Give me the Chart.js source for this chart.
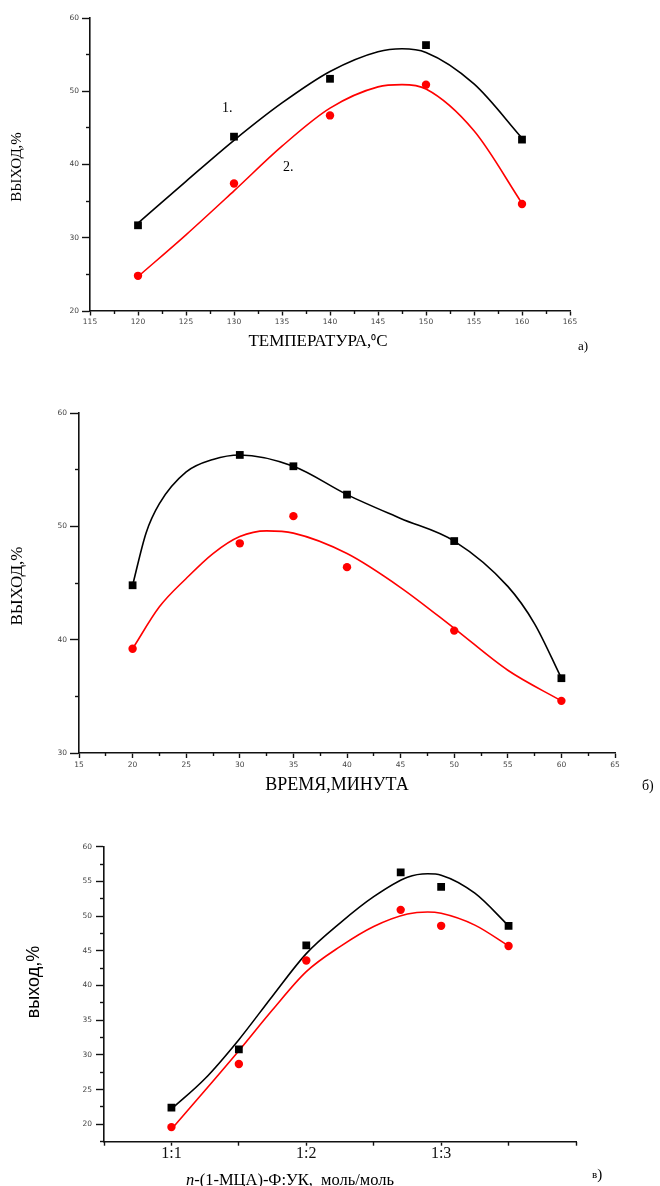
<!DOCTYPE html>
<html><head><meta charset="utf-8">
<script src="https://cdn.jsdelivr.net/npm/chart.js@4.4.0/dist/chart.umd.min.js"></script>
<style>
html,body{margin:0;padding:0;background:#fff;width:660px;height:1186px;overflow:hidden;}
canvas{position:absolute;left:0;}
</style></head><body>
<canvas id="ca" width="660" height="380" style="top:0px"></canvas>
<canvas id="cb" width="660" height="420" style="top:380px"></canvas>
<canvas id="cc" width="660" height="386" style="top:800px"></canvas>
<script>
// ---------- a) temperature ----------
const tempX = [120, 130, 140, 150, 160];
const tempYield1 = [31.7, 43.8, 51.7, 56.3, 43.4];
const tempYield2 = [24.8, 37.4, 46.7, 50.9, 34.6];
const tempCurveX = [120, 125, 130, 135, 140, 145, 147.5, 150, 155, 160];
const tempCurve1 = [32.0, 37.7, 43.3, 48.4, 52.7, 55.4, 55.8, 55.3, 51.0, 43.6];
const tempCurve2 = [24.7, 30.4, 36.4, 42.5, 47.7, 50.6, 50.9, 50.3, 44.6, 34.7];
const tempXTicks = [115, 120, 125, 130, 135, 140, 145, 150, 155, 160, 165];
const tempXMinor = [117.5, 122.5, 127.5, 132.5, 137.5, 142.5, 147.5, 152.5, 157.5, 162.5];
const tempYTicks = [20, 30, 40, 50, 60];
const tempYMinor = [25, 35, 45, 55];

// ---------- б) time ----------
const timeX = [20, 30, 35, 40, 50, 60];
const timeYield1 = [44.8, 56.3, 55.3, 52.8, 48.7, 36.6];
const timeYield2 = [39.2, 48.5, 50.9, 46.4, 40.8, 34.6];
const timeCurve1X = [20, 21.25, 22.5, 25, 27.5, 30, 35, 40, 45, 50, 55, 57.5, 60];
const timeCurve1 = [44.8, 49.4, 52.0, 54.8, 55.9, 56.3, 55.3, 52.8, 50.7, 48.7, 44.7, 41.4, 36.6];
const timeCurve2X = [20, 22.5, 25, 27.5, 30, 32.5, 35, 40, 45, 50, 55, 60];
const timeCurve2 = [39.2, 42.9, 45.4, 47.6, 49.1, 49.6, 49.4, 47.6, 44.6, 41.0, 37.3, 34.6];
const timeXTicks = [15, 20, 25, 30, 35, 40, 45, 50, 55, 60, 65];
const timeXMinor = [17.5, 22.5, 27.5, 32.5, 37.5, 42.5, 47.5, 52.5, 57.5, 62.5];
const timeYTicks = [30, 40, 50, 60];
const timeYMinor = [35, 45, 55];

// ---------- в) molar ratio ----------
const ratioX = [1, 1.5, 2, 2.7, 3, 3.5];
const ratioYield1 = [22.4, 30.8, 45.8, 56.3, 54.2, 48.6];
const ratioYield2 = [19.6, 28.7, 43.6, 50.9, 48.6, 45.7];
const ratioCurveX = [1, 1.25, 1.5, 1.75, 2, 2.25, 2.5, 2.75, 2.9, 3, 3.25, 3.5];
const ratioCurve1 = [22.2, 26.6, 32.2, 38.5, 44.6, 49.0, 52.8, 55.6, 56.1, 55.9, 53.3, 48.6];
const ratioCurve2 = [19.3, 24.9, 30.6, 36.5, 42.0, 45.6, 48.5, 50.3, 50.6, 50.4, 48.7, 45.7];
const ratioXTicks = [1, 2, 3];
const ratioXTickLabels = ['1:1', '1:2', '1:3'];
const ratioXMinor = [0.5, 1.5, 2.5, 3.5, 4];
const ratioYTicks = [20, 25, 30, 35, 40, 45, 50, 55, 60];
const ratioYMinor = [17.5, 22.5, 27.5, 32.5, 37.5, 42.5, 47.5, 52.5, 57.5];

const zip = (xs, ys) => xs.map((x, i) => ({x, y: ys[i]}));

const textPlugin = {
  id: 'texts',
  afterDraw(chart, args, opts) {
    const ctx = chart.ctx;
    (opts.items || []).forEach(it => {
      ctx.save();
      ctx.translate(it.x, it.y);
      if (it.rot) ctx.rotate(it.rot);
      ctx.fillStyle = it.color || '#000';
      ctx.textBaseline = 'middle';
      ctx.textAlign = 'left';
      const runs = it.runs;
      let total = 0;
      runs.forEach(r => { ctx.font = r[1]; total += ctx.measureText(r[0]).width; });
      let x = it.align === 'left' ? 0 : -total / 2;
      runs.forEach(r => { ctx.font = r[1]; ctx.fillText(r[0], x, 0); x += ctx.measureText(r[0]).width; });
      ctx.restore();
    });
  }
};

const TICKFONT = {family: 'DejaVu Sans', size: 7.5, lineHeight: 1.2};
const TICKCOLOR = '#444';

function makeChart(id, o) {
  const setTicks = vals => s => { s.ticks = vals.map(v => ({value: v})); };
  const datasets = [
    {data: zip(o.px, o.p1), pointStyle: 'rect', pointRadius: 5.5, pointBackgroundColor: '#000', pointBorderColor: '#000', pointBorderWidth: 0, showLine: false, order: 0},
    {data: zip(o.px, o.p2), pointStyle: 'circle', pointRadius: 4.2, pointBackgroundColor: '#ff0000', pointBorderColor: '#ff0000', pointBorderWidth: 0, showLine: false, order: 0},
    {data: zip(o.c1x, o.c1), showLine: true, pointRadius: 0, borderColor: '#000', borderWidth: 1.6, cubicInterpolationMode: 'monotone', fill: false, order: 1},
    {data: zip(o.c2x, o.c2), showLine: true, pointRadius: 0, borderColor: '#ff0000', borderWidth: 1.6, cubicInterpolationMode: 'monotone', fill: false, order: 1}
  ];
  return new Chart(document.getElementById(id), {
    type: 'scatter',
    data: {datasets},
    options: {
      responsive: false,
      animation: false,
      events: [],
      layout: {padding: {left: 0, top: o.padTop, right: o.padRight, bottom: 0}},
      plugins: {legend: {display: false}, tooltip: {enabled: false}, texts: {items: o.texts}},
      scales: {
        x: {
          type: 'linear', position: 'bottom', min: o.xmin, max: o.xmax, weight: 1,
          afterBuildTicks: setTicks(o.xTicks),
          afterFit: s => { s.height = o.xHeight; },
          border: {display: true, color: '#111', width: 1.6},
          grid: {drawOnChartArea: false, drawTicks: true, tickLength: o.xTickLen, tickColor: '#111', tickWidth: 1.4},
          ticks: Object.assign({color: TICKCOLOR, font: TICKFONT, padding: o.xPad, maxRotation: 0, autoSkip: false,
            callback: o.xLabel || (v => String(v))}, o.xTickOpts || {})
        },
        xm: {
          type: 'linear', position: 'bottom', min: o.xmin, max: o.xmax, weight: 0,
          afterBuildTicks: setTicks(o.xMinor),
          afterFit: s => { s.height = 0; },
          border: {display: false},
          grid: {drawOnChartArea: false, drawTicks: true, tickLength: o.xMinorLen, tickColor: '#111', tickWidth: 1.4},
          ticks: {display: false}
        },
        y: {
          type: 'linear', position: 'left', min: o.ymin, max: o.ymax, weight: 1,
          afterBuildTicks: setTicks(o.yTicks),
          afterFit: s => { s.width = o.yWidth; },
          border: {display: true, color: '#111', width: 1.6},
          grid: {drawOnChartArea: false, drawTicks: true, tickLength: o.yTickLen, tickColor: '#111', tickWidth: 1.4},
          ticks: {color: TICKCOLOR, font: TICKFONT, padding: o.yPad, autoSkip: false, callback: v => String(v)}
        },
        ym: {
          type: 'linear', position: 'left', min: o.ymin, max: o.ymax, weight: 0,
          afterBuildTicks: setTicks(o.yMinor),
          afterFit: s => { s.width = 0; },
          border: {display: false},
          grid: {drawOnChartArea: false, drawTicks: true, tickLength: o.yMinorLen, tickColor: '#111', tickWidth: 1.4},
          ticks: {display: false}
        }
      }
    },
    plugins: [textPlugin]
  });
}

const SERIF = 'Liberation Serif';

makeChart('ca', {
  px: tempX, p1: tempYield1, p2: tempYield2,
  c1x: tempCurveX, c1: tempCurve1, c2x: tempCurveX, c2: tempCurve2,
  xmin: 115, xmax: 165, ymin: 20, ymax: 60,
  xTicks: tempXTicks, xMinor: tempXMinor, yTicks: tempYTicks, yMinor: tempYMinor,
  padTop: 18, padRight: 90, yWidth: 90, xHeight: 69,
  xTickLen: 4.5, xMinorLen: 3, yTickLen: 8, yMinorLen: 4, xPad: 2.5, yPad: 3,
  texts: [
    {runs: [['ВЫХОД,%', '15px ' + SERIF]], x: 17, y: 167, rot: -Math.PI / 2},
    {runs: [['ТЕМПЕРАТУРА,', '17px ' + SERIF], ['⁰', '14px ' + SERIF], ['С', '17px ' + SERIF]], x: 318, y: 342},
    {runs: [['1.', '14px ' + SERIF]], x: 222, y: 108, align: 'left'},
    {runs: [['2.', '14px ' + SERIF]], x: 283, y: 167, align: 'left'},
    {runs: [['а)', '13px ' + SERIF]], x: 578, y: 347, align: 'left'}
  ]
});

makeChart('cb', {
  px: timeX, p1: timeYield1, p2: timeYield2,
  c1x: timeCurve1X, c1: timeCurve1, c2x: timeCurve2X, c2: timeCurve2,
  xmin: 15, xmax: 65, ymin: 30, ymax: 60,
  xTicks: timeXTicks, xMinor: timeXMinor, yTicks: timeYTicks, yMinor: timeYMinor,
  padTop: 33, padRight: 45, yWidth: 79, xHeight: 47,
  xTickLen: 5, xMinorLen: 3, yTickLen: 9, yMinorLen: 4, xPad: 2.5, yPad: 3,
  texts: [
    {runs: [['ВЫХОД,%', '17px ' + SERIF]], x: 18, y: 206, rot: -Math.PI / 2},
    {runs: [['ВРЕМЯ,МИНУТА', '18px ' + SERIF]], x: 337, y: 405},
    {runs: [['б)', '14px ' + SERIF]], x: 642, y: 406, align: 'left'}
  ]
});

makeChart('cc', {
  px: ratioX, p1: ratioYield1, p2: ratioYield2,
  c1x: ratioCurveX, c1: ratioCurve1, c2x: ratioCurveX, c2: ratioCurve2,
  xmin: 0.5, xmax: 4, ymin: 17.5, ymax: 60,
  xTicks: ratioXTicks, xMinor: ratioXMinor, yTicks: ratioYTicks, yMinor: ratioYMinor,
  padTop: 46.7, padRight: 84, yWidth: 104, xHeight: 44.3,
  xTickLen: 4, xMinorLen: 4, yTickLen: 8, yMinorLen: 4, xPad: 0, yPad: 4,
  xLabel: v => ratioXTickLabels[ratioXTicks.indexOf(v)],
  xTickOpts: {color: '#111', font: {family: SERIF, size: 16, lineHeight: 1}},
  texts: [
    {runs: [['выход,%', '18px Liberation Sans']], x: 34, y: 182, rot: -Math.PI / 2},
    {runs: [['n', 'italic 16.5px ' + SERIF], ['-(1-МЦА)-Ф:УК,  моль/моль', '16.5px ' + SERIF]], x: 290, y: 381},
    {runs: [['в', '11px ' + SERIF], [')', '15px ' + SERIF]], x: 592, y: 375, align: 'left'}
  ]
});
</script>
</body></html>
